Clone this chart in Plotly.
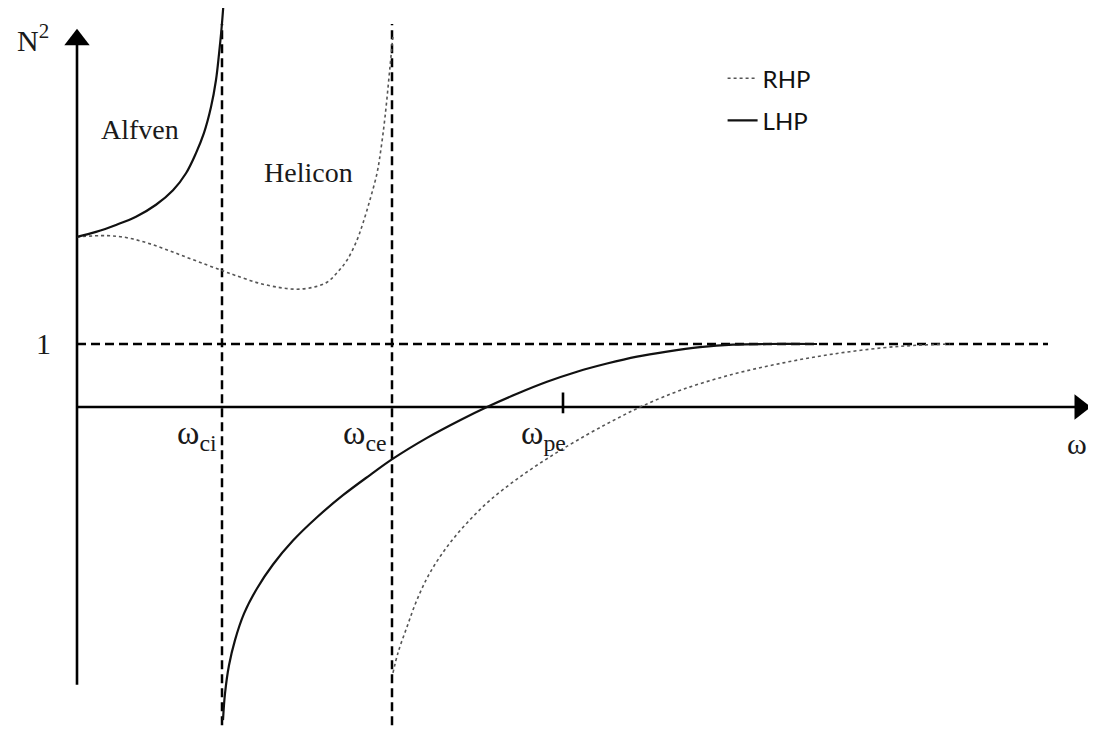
import plotly.graph_objects as go

# ---- data (schematic units: omega along x, N^2 along y) ----
w_ci = 1.45
w_ce = 3.15
w_pe = 4.86

lhp1_w = [0.00, 0.19, 0.39, 0.59, 0.79, 0.96, 1.09, 1.19, 1.27, 1.34, 1.39, 1.42, 1.445, 1.465, 1.48]
lhp1_n = [2.70, 2.78, 2.89, 3.02, 3.21, 3.44, 3.71, 4.03, 4.35, 4.76, 5.19, 5.60, 6.00, 6.40, 6.75]

lhp2_w = [1.46, 1.48, 1.52, 1.58, 1.67, 1.80, 1.96, 2.16, 2.40, 2.66, 2.93, 3.16, 3.50, 3.83, 4.10,
          4.40, 4.70, 5.00, 5.30, 5.60, 5.90, 6.23, 6.56, 6.90, 7.40]
lhp2_n = [-4.97, -4.55, -4.10, -3.70, -3.28, -2.88, -2.50, -2.12, -1.75, -1.40, -1.08, -0.82, -0.49, -0.21, 0.00,
          0.21, 0.40, 0.56, 0.69, 0.80, 0.88, 0.95, 0.99, 1.00, 1.00]

rhp1_w = [0.00, 0.29, 0.49, 0.69, 0.89, 1.09, 1.29, 1.46, 1.59, 1.81, 2.03, 2.20, 2.36, 2.50, 2.60,
          2.70, 2.80, 2.86, 2.93, 3.00, 3.04, 3.08, 3.13, 3.16]
rhp1_n = [2.70, 2.72, 2.69, 2.61, 2.50, 2.38, 2.26, 2.16, 2.085, 1.97, 1.895, 1.87, 1.90, 1.98, 2.13,
          2.33, 2.65, 2.92, 3.29, 3.71, 4.10, 4.60, 5.40, 5.90]

rhp2_w = [3.16, 3.21, 3.30, 3.40, 3.53, 3.70, 3.90, 4.13, 4.43, 4.76, 5.10, 5.38, 5.66, 6.06, 6.56,
          7.06, 7.56, 8.06, 8.40, 8.73]
rhp2_n = [-4.22, -3.90, -3.49, -3.06, -2.63, -2.22, -1.84, -1.48, -1.11, -0.76, -0.44, -0.20, 0.02, 0.28, 0.52,
          0.70, 0.84, 0.94, 0.98, 1.00]

x_axis_end = 10.0
y_axis_bottom = -4.41
y_axis_top = 5.75
unity_end = 9.71
asym_top = 6.08
asym_bottom = -5.05
tick_span = [0.23, -0.10]

serif = "Liberation Serif"
fig = go.Figure()

# axes
fig.add_trace(go.Scatter(x=[0, 0], y=[y_axis_bottom, y_axis_top], mode="lines",
                         line=dict(color="black", width=2.6), showlegend=False, hoverinfo="skip"))
fig.add_trace(go.Scatter(x=[0, x_axis_end], y=[0, 0], mode="lines",
                         line=dict(color="black", width=2.6), showlegend=False, hoverinfo="skip"))
fig.add_trace(go.Scatter(x=[0], y=[5.83], mode="markers",
                         marker=dict(symbol="triangle-up", size=22, color="black"),
                         showlegend=False, hoverinfo="skip"))
fig.add_trace(go.Scatter(x=[10.03], y=[0], mode="markers",
                         marker=dict(symbol="triangle-right", size=22, color="black"),
                         showlegend=False, hoverinfo="skip"))

dash_style = dict(color="black", width=2.5, dash="9px,5px")
# N^2 = 1 dashed line
fig.add_trace(go.Scatter(x=[0, unity_end], y=[1, 1], mode="lines", line=dash_style,
                         showlegend=False, hoverinfo="skip"))
# resonances
for wv in (w_ci, w_ce):
    fig.add_trace(go.Scatter(x=[wv, wv], y=[asym_bottom, asym_top], mode="lines", line=dash_style,
                             showlegend=False, hoverinfo="skip"))
# omega_pe tick
fig.add_trace(go.Scatter(x=[w_pe, w_pe], y=tick_span, mode="lines",
                         line=dict(color="black", width=2.6), showlegend=False, hoverinfo="skip"))

# curves
dot_line = dict(color="#555555", width=1.6, dash="dot", shape="spline", smoothing=1.0)
solid_line = dict(color="#111111", width=2.2, shape="spline", smoothing=1.0)
fig.add_trace(go.Scatter(x=rhp1_w, y=rhp1_n, mode="lines", name="RHP", legendgroup="rhp",
                         line=dot_line))
fig.add_trace(go.Scatter(x=rhp2_w, y=rhp2_n, mode="lines", name="RHP", legendgroup="rhp",
                         showlegend=False, line=dot_line))
fig.add_trace(go.Scatter(x=lhp1_w, y=lhp1_n, mode="lines", name="LHP", legendgroup="lhp",
                         line=solid_line))
fig.add_trace(go.Scatter(x=lhp2_w, y=lhp2_n, mode="lines", name="LHP", legendgroup="lhp",
                         showlegend=False, line=solid_line))

ann = [
    dict(x=-0.44, y=5.86, text="N<sup>2</sup>", size=30),
    dict(x=-0.34, y=1.0, text="1", size=30),
    dict(x=0.63, y=4.41, text="Alfven", size=28),
    dict(x=2.31, y=3.73, text="Helicon", size=28),
    dict(x=1.20, y=-0.45, text="ω<sub>ci</sub>", size=34),
    dict(x=2.88, y=-0.45, text="ω<sub>ce</sub>", size=34),
    dict(x=4.66, y=-0.45, text="ω<sub>pe</sub>", size=34),
    dict(x=10.0, y=-0.58, text="ω", size=30),
]
for a in ann:
    fig.add_annotation(x=a["x"], y=a["y"], text=a["text"], showarrow=False,
                       font=dict(family=serif, size=a["size"], color="#1a1a1a"))

fig.update_layout(
    width=1096, height=729,
    margin=dict(l=0, r=0, t=0, b=0),
    paper_bgcolor="white", plot_bgcolor="white",
    xaxis=dict(range=[-0.69, 10.27], visible=False, fixedrange=True),
    yaxis=dict(range=[-5.238, 6.333], visible=False, fixedrange=True),
    showlegend=True,
    legend=dict(x=0.652, y=0.934, xanchor="left", yanchor="top",
                bgcolor="rgba(0,0,0,0)", tracegroupgap=8,
                font=dict(family="Lato", size=24, color="#111111")),
)

fig.write_html("out.html")
